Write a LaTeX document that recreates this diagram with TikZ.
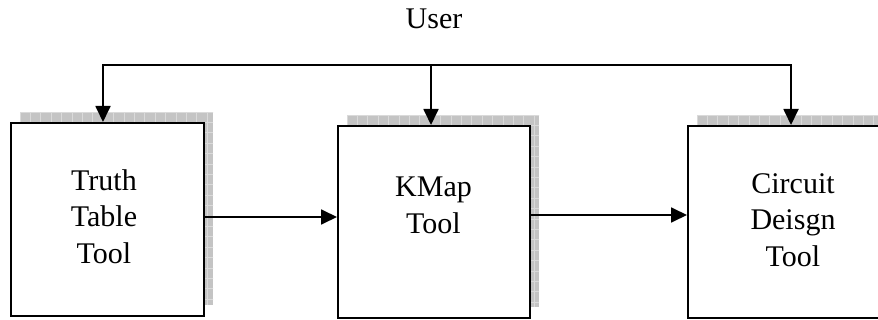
\documentclass[tikz,border=0pt]{standalone}
\usepackage{fontspec}
\setmainfont{Liberation Serif}
\usetikzlibrary{arrows.meta}
\definecolor{shadowgray}{HTML}{C4C4C4}
\definecolor{gridgray}{HTML}{DADADA}
\tikzset{
  toolbox/.style={draw=black, line width=2pt, fill=white, minimum width=193pt, minimum height=193pt, anchor=north west, inner sep=0pt},
  tooltext/.style={align=center, font=\fontsize{30}{36.7}\selectfont, inner sep=0pt},
  conn/.style={line width=1.8pt, -{Triangle[length=16pt,width=15pt]}},
  plainconn/.style={line width=1.8pt},
}
\newcommand{\shadowrect}[4]{%
  \begin{scope}
    \clip (#1,#2) rectangle (#3,#4);
    \fill[shadowgray] (#1,#2) rectangle (#3,#4);
    \draw[gridgray, line width=0.8pt, step=10.4pt, shift={(#1,#2)}] (0,0) grid (#3-#1+20,#4-#2+20);
  \end{scope}}
\begin{document}
\begin{tikzpicture}[x=1pt,y=-1pt]
\useasboundingbox (0,0) rectangle (878,320);
\fill[white] (0,0) rectangle (878,320);
% shadows
\shadowrect{20}{112}{213}{305}
\shadowrect{347}{115}{539}{307}
\shadowrect{697}{115}{890}{307}
% boxes
\node[toolbox] (b1) at (10,122) {};
\node[toolbox, minimum width=192pt, minimum height=192pt] (b2) at (337,125) {};
\node[toolbox, minimum width=193pt, minimum height=192pt] (b3) at (687,125) {};
% texts
\node[tooltext] (t1) at (104,216.5) {Truth\\Table\\Tool};
\node[tooltext] (t2) at (433.5,205) {KMap\\Tool};
\node[tooltext] (t3) at (793,220) {Circuit\\Deisgn\\Tool};
\node[font=\fontsize{30}{36}\selectfont, anchor=base, inner sep=0pt] (user) at (434,29) {User};
% user bus
\coordinate (u1) at (103,65);
\coordinate (u2) at (431,65);
\coordinate (u3) at (791,65);
\draw[plainconn, line cap=rect] (u1) -- (u3);
\draw[conn] (u1) -- (u1 |- b1.north);
\draw[conn] (u2) -- (u2 |- b2.north);
\draw[conn] (u3) -- (u3 |- b3.north);
% flow arrows
\coordinate (a1) at (203,217);
\coordinate (a2) at (529,215);
\draw[conn] (a1) -- (a1 -| b2.west);
\draw[conn] (a2) -- (a2 -| b3.west);
\end{tikzpicture}
\end{document}
